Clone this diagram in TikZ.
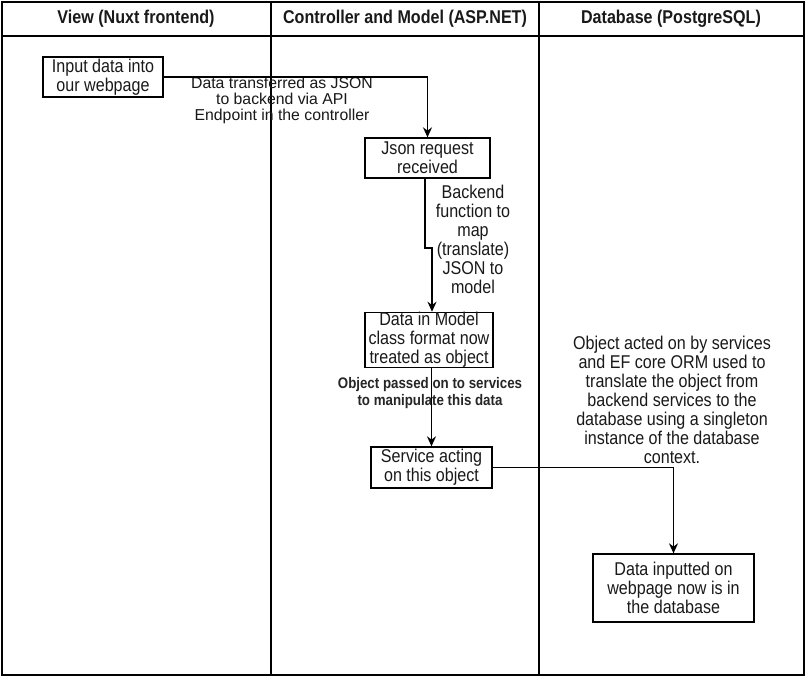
\documentclass[tikz,border=0pt]{standalone}
\usepackage{fontspec}
\setmainfont[FakeStretch=0.87]{Liberation Sans}
\newfontfamily\plainfont{Liberation Sans}
\usetikzlibrary{arrows.meta}
\tikzset{
  frameline/.style={draw=black, line width=1.4pt},
  box/.style={draw=black, line width=1.3pt, inner sep=0pt, align=center,
    font=\fontsize{18.5}{19}\selectfont, text=black!90},
  lbl/.style={inner sep=0pt, align=center, font=\fontsize{18.5}{19}\selectfont, text=black!90},
  smalllbl/.style={inner sep=0pt, align=center, font=\bfseries\fontsize{15.3}{17}\selectfont, text=black!85},
  head/.style={inner sep=0pt, font=\bfseries\fontsize{18.5}{20}\selectfont, text=black!90},
  conn/.style={draw=black, line width=1.3pt, -{Stealth[length=10pt,width=9pt]}},
  plainline/.style={draw=black, line width=1.3pt}
}
\begin{document}
\begin{tikzpicture}[x=1pt,y=-1pt]
\useasboundingbox (0,0) rectangle (806,677);
\fill[white] (0,0) rectangle (806,677);
% frame
\draw[frameline] (2,2) rectangle (804,675);
\draw[frameline] (2,36) -- (804,36);
\draw[frameline] (271,2) -- (271,675);
\draw[frameline] (539,2) -- (539,675);
% headers
\node[head] (h1) at (136,19) {View (Nuxt frontend)};
\node[head] (h2) at (405,19) {Controller and Model (ASP.NET)};
\node[head] (h3) at (671,19) {Database (PostgreSQL)};
% boxes
\node[box, minimum width=120pt, minimum height=40pt] (input) at (103,77) {Input data into\\our webpage};
\node[box, minimum width=125pt, minimum height=40pt] (json) at (427.5,158) {Json request\\received};
\node[box, minimum width=128pt, minimum height=54pt] (model) at (429,340) {Data in Model\\class format now\\treated as object};
\node[box, minimum width=121pt, minimum height=41pt] (service) at (431.5,467.5) {Service acting\\on this object};
\node[box, minimum width=161pt, minimum height=68pt] (db) at (673.5,588) {Data inputted on\\webpage now is in\\the database};
% labels
\node[lbl, font=\plainfont\fontsize{15.8}{16}\selectfont] (l1) at (282,100) {Data transferred as JSON\\to backend via API\\Endpoint in the controller};
\node[lbl] (l2) at (473,239) {Backend\\function to\\map\\(translate)\\JSON to\\model};
\node[smalllbl] (l3) at (430,393) {Object passed on to services\\to manipulate this data};
\node[lbl] (l4) at (672,400) {Object acted on by services\\and EF core ORM used to\\translate the object from\\backend services to the\\database using a singleton\\instance of the database\\context.};
% connectors
\draw[conn] (input.east) -| (json.north);
\coordinate (j1) at (425,248);
\coordinate (j2) at (432,248);
\draw[conn] (json.south -| j1) -- (j1) -- (j2) -- (model.north -| j2);
\draw[conn] (service.north |- model.south) -- (service.north);
\draw[conn] (service.east) -| (db.north);
\end{tikzpicture}
\end{document}
